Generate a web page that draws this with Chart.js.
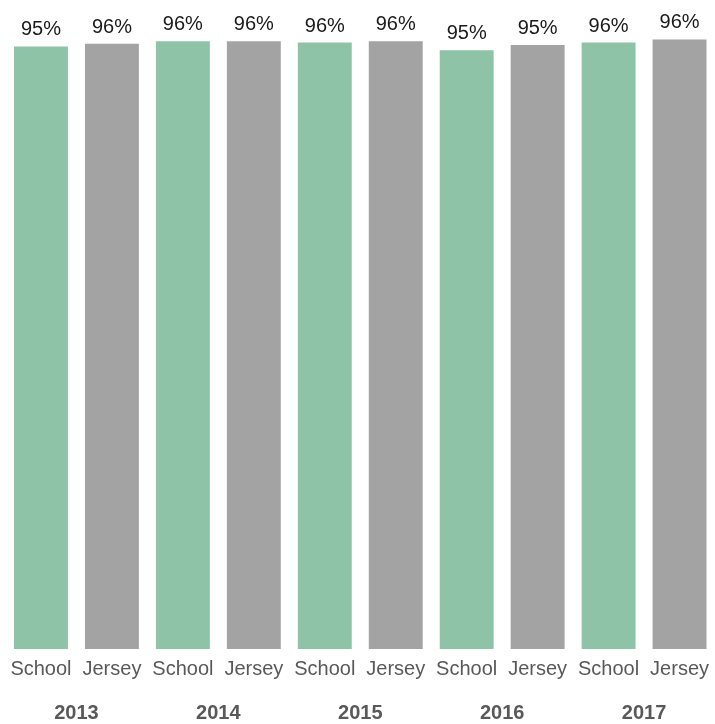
<!DOCTYPE html>
<html>
<head>
<meta charset="utf-8">
<script src="https://cdn.jsdelivr.net/npm/chart.js@4.4.1/dist/chart.umd.min.js"></script>
<style>
  html, body { margin: 0; padding: 0; background: #fff; overflow: hidden; }
  #wrap { width: 717px; height: 724px; position: relative; }
</style>
</head>
<body>
<div id="wrap"><canvas id="grafico"></canvas></div>
<script>
// Dados
const categorias = ['School', 'Jersey', 'School', 'Jersey', 'School', 'Jersey', 'School', 'Jersey', 'School', 'Jersey'];
const anos = ['2013', '2014', '2015', '2016', '2017'];
const valores = [95.2, 95.6, 96.0, 96.0, 95.8, 96.0, 94.6, 95.4, 95.8, 96.3];

const corSchool = '#8fc3a8';
const corJersey = '#a3a3a3';
const fonte = "'Liberation Sans', Arial, sans-serif";

// Plugin simples para os rótulos acima das barras
const rotulosBarras = {
    id: 'rotulosBarras',
    afterDatasetsDraw(chart) {
        const ctx = chart.ctx;
        const meta = chart.getDatasetMeta(0);
        ctx.save();
        ctx.font = '20px ' + fonte;
        ctx.fillStyle = '#1a1a1a';
        ctx.textAlign = 'center';
        ctx.textBaseline = 'alphabetic';
        meta.data.forEach((bar, i) => {
            ctx.fillText(Math.round(valores[i]) + '%', bar.x, bar.y - 11);
        });
        ctx.restore();
    }
};

const ctx = document.getElementById('grafico').getContext('2d');
new Chart(ctx, {
    type: 'bar',
    data: {
        labels: categorias,
        datasets: [{
            data: valores,
            backgroundColor: categorias.map(c => c === 'School' ? corSchool : corJersey),
            borderWidth: 0,
            barPercentage: 0.76,
            categoryPercentage: 1.0,
            xAxisID: 'x'
        }]
    },
    options: {
        responsive: true,
        maintainAspectRatio: false,
        animation: false,
        layout: {
            padding: { top: 16, left: 5.5, right: 0, bottom: 0 }
        },
        plugins: {
            legend: { display: false },
            tooltip: { enabled: false }
        },
        scales: {
            y: {
                display: false,
                min: 0,
                max: 100
            },
            x: {
                weight: 0,
                grid: { display: false, drawTicks: false },
                border: { display: false },
                ticks: {
                    color: '#595959',
                    font: { family: fonte, size: 20 },
                    padding: 8,
                    maxRotation: 0,
                    autoSkip: false
                },
                afterFit: (axis) => { axis.height = 44; }
            },
            x2: {
                type: 'category',
                labels: anos,
                position: 'bottom',
                offset: true,
                weight: 1,
                grid: { display: false, drawTicks: false },
                border: { display: false },
                ticks: {
                    color: '#595959',
                    font: { family: fonte, size: 20, weight: 'bold' },
                    padding: 8,
                    maxRotation: 0,
                    autoSkip: false
                },
                afterFit: (axis) => { axis.height = 31; }
            }
        }
    },
    plugins: [rotulosBarras]
});
</script>
</body>
</html>
